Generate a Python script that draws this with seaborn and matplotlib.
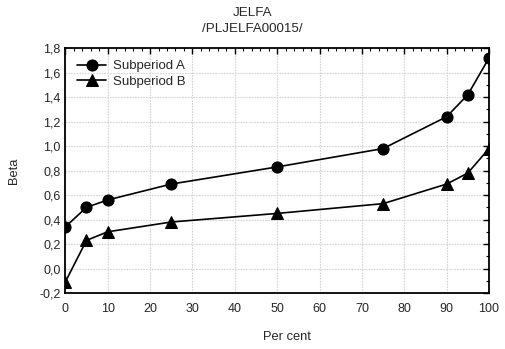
import matplotlib
matplotlib.use("Agg")
import matplotlib.pyplot as plt
import matplotlib.ticker as mticker
import seaborn as sns
import pandas as pd

percent = [0, 5, 10, 25, 50, 75, 90, 95, 100]
beta_a = [0.34, 0.50, 0.56, 0.69, 0.83, 0.98, 1.24, 1.42, 1.72]
beta_b = [-0.11, 0.23, 0.30, 0.38, 0.45, 0.53, 0.69, 0.78, 0.98]
series_names = ["Subperiod A", "Subperiod B"]
title_lines = ["JELFA", "/PLJELFA00015/"]

sns.set_style("white")
plt.rcParams['font.family'] = ['Liberation Sans', 'DejaVu Sans']
plt.rcParams['font.size'] = 9

df = pd.DataFrame({
    "Per cent": percent * 2,
    "Beta": beta_a + beta_b,
    "Series": [series_names[0]] * len(percent) + [series_names[1]] * len(percent),
})

W, H = 505, 349
fig = plt.figure(figsize=(W / 100, H / 100), dpi=100)
ax = fig.add_axes([65.3 / W, 1 - 293 / H, (489 - 65.3) / W, (293 - 48.2) / H])

sns.lineplot(data=df, x="Per cent", y="Beta", style="Series", markers=["o", "^"],
             dashes=False, color="black", markersize=8, linewidth=1.2,
             markeredgecolor="black", ax=ax, legend=True)

ax.set_xlim(0, 100)
ax.set_ylim(-0.2, 1.8)
ax.xaxis.set_major_locator(mticker.MultipleLocator(10))
ax.xaxis.set_minor_locator(mticker.MultipleLocator(2))
ax.yaxis.set_major_locator(mticker.MultipleLocator(0.2))
ax.yaxis.set_minor_locator(mticker.MultipleLocator(0.1))
ax.yaxis.set_major_formatter(mticker.FuncFormatter(lambda v, p: f"{v:.1f}".replace(".", ",").replace("-0,0", "0,0")))
ax.tick_params(which="both", direction="in", top=True, right=True, color="black")
ax.tick_params(which="major", length=4.5, width=1, labelsize=9)
ax.tick_params(axis="x", which="major", pad=7)
ax.tick_params(axis="y", which="major", pad=3.5)
ax.tick_params(which="minor", length=2.5, width=0.8)
ax.grid(True, which="major", color="#d4d4d4", linestyle=(0, (1.5, 1)), linewidth=0.8)
for s in ax.spines.values():
    s.set_color("black")
    s.set_linewidth(1.3)

ax.set_xlabel("Per cent", fontsize=9.3)
ax.xaxis.set_label_coords((287 - 65.3) / (489 - 65.3), -(337 - 293) / (293 - 48.2))
ax.xaxis.label.set_va("center")
ax.set_ylabel("Beta", fontsize=9.3)
ax.yaxis.set_label_coords(-(65.3 - 14) / (489 - 65.3), 0.5)
ax.yaxis.label.set_va("center")

fig.text(0.5, 1 - 13 / H, title_lines[0], ha="center", va="center", fontsize=9.6)
fig.text(0.5, 1 - 29 / H, title_lines[1], ha="center", va="center", fontsize=9.6)

leg = ax.legend(loc="upper left", frameon=False, fontsize=9.5, bbox_to_anchor=(0.0, 1.0),
                handlelength=2.2, borderaxespad=0.5, labelspacing=0.25, handletextpad=0.5)

fig.savefig("out.png", dpi=100)
